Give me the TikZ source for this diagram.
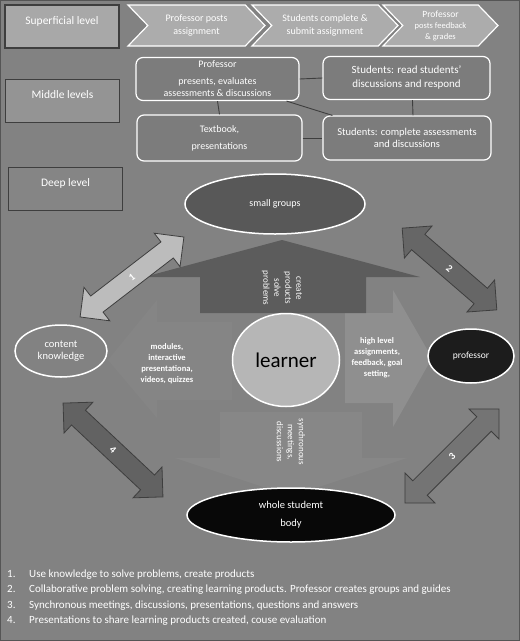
\documentclass[tikz,border=0pt]{standalone}
\usepackage{fontspec}
\setmainfont{Carlito}
\usetikzlibrary{shapes.geometric,shapes.arrows,shapes.symbols}

\definecolor{bgGray}{RGB}{130,130,130}
\definecolor{frameGray}{RGB}{85,85,85}
\definecolor{darkEdge}{RGB}{62,62,62}
\definecolor{supGray}{RGB}{168,168,168}
\definecolor{midGray}{RGB}{148,148,148}
\definecolor{deepGray}{RGB}{133,133,133}
\definecolor{chevGray}{RGB}{172,172,172}
\definecolor{boxGray}{RGB}{124,124,124}
\definecolor{groupGray}{RGB}{88,88,88}
\definecolor{learnGray}{RGB}{182,182,182}
\definecolor{profBlack}{RGB}{28,28,28}
\definecolor{bodyBlack}{RGB}{8,8,8}
\definecolor{oneGray}{RGB}{188,188,188}
\definecolor{twoGray}{RGB}{102,102,102}
\definecolor{threeGray}{RGB}{116,116,116}
\definecolor{fourGray}{RGB}{98,98,98}
\definecolor{upGray}{RGB}{92,92,92}
\definecolor{rightGray}{RGB}{143,143,143}
\definecolor{leftGray}{RGB}{133,133,133}
\definecolor{downGray}{RGB}{135,135,135}

\begin{document}
\begin{tikzpicture}[x=1pt,y=-1pt,
	levelbox/.style={draw=darkEdge,line width=1.5pt,minimum width=114pt,minimum height=43pt,text=white,text depth=12pt,font=\fontsize{11.5}{13}\selectfont},
	chevron/.style={signal,signal from=west,signal to=east,signal pointer angle=92,draw=white,line width=1.2pt,fill=chevGray,minimum height=41pt,inner sep=0pt,text=white,align=center,font=\fontsize{10}{13.5}\selectfont},
	midbox/.style={draw=white,rounded corners=7pt,line width=1.2pt,fill=boxGray,minimum width=163pt,minimum height=43pt,text=white,align=center,font=\fontsize{10}{12}\selectfont},
	blob/.style={ellipse,draw=white,line width=1.5pt,inner sep=0pt,text=white,align=center,font=\fontsize{10}{12}\selectfont},
	twoway/.style={double arrow,double arrow head extend=11pt,double arrow tip angle=90,draw=darkEdge,line width=0.8pt,inner xsep=0pt,inner ysep=6.5pt,text=white,font=\bfseries\fontsize{10}{12}\selectfont},
	link/.style={draw=darkEdge,line width=0.9pt},
	flow/.style={text=white,align=center,font=\fontsize{9}{11}\selectfont}
]
	% canvas
	\fill[bgGray] (0,0) rectangle (520,641);
	\draw[frameGray,line width=1pt] (0.5,0.5) rectangle (519.5,640.5);
	\useasboundingbox (0,0) rectangle (520,641);

	% levels
	\node[levelbox,fill=supGray] (suplevel) at (62,26.5) {Superficial level};
	\node[levelbox,fill=midGray] (midlevel) at (62.5,101) {Middle levels};
	\node[levelbox,fill=deepGray] (deeplevel) at (65.5,189) {Deep level};

	% superficial level
	\node[chevron,minimum width=137pt] (post) at (196.5,25.5) {Professor posts\\assignment};
	\node[chevron,minimum width=146pt] (submit) at (325,25.5) {Students complete \&\\submit assignment};
	\node[chevron,minimum width=115pt,font=\fontsize{8.5}{11}\selectfont] (grade) at (440.5,25.5) {{\fontsize{9.5}{11}\selectfont Professor}\\posts feedback\\\& grades};

	% middle levels
	\node[midbox] (profbox) at (217.5,79) {Professor\\[5pt]presents, evaluates\\assessments \& discussions};
	\node[midbox,minimum width=167pt,font=\fontsize{11}{14}\selectfont] (readbox) at (406.5,78) {Students: read students'\\discussions and respond};
	\node[midbox,minimum width=165pt,minimum height=46pt] (textbox) at (219.5,138) {Textbook,\\[5pt]presentations};
	\node[midbox,minimum width=168pt,minimum height=44pt,font=\fontsize{10.5}{12.5}\selectfont] (compbox) at (407,138) {Students: complete assessments\\and discussions};

	\path[link] (profbox.east) -- (readbox.west);
	\path[link] (profbox.south) -- (textbox.north);
	\path[link] ([xshift=6pt]readbox.south) -- ([xshift=6pt]compbox.north);
	\path[link] ([xshift=-13pt]profbox.south east) -- ([xshift=10pt]compbox.north west);
	\path[link] (textbox.east) -- (compbox.west);

	% deep level: flows round the learner
	\fill[leftGray] (232,322) -- (157,322) -- (157,300) -- (108,360) -- (157,418) -- (157,400) -- (232,400) -- cycle;
	\fill[downGray] (220,412) -- (362,412) -- (362,458) -- (407,458) -- (291,496) -- (175,458) -- (220,458) -- cycle;
	\fill[rightGray] (345,313) -- (393,313) -- (393,290) -- (432,358) -- (393,427) -- (393,403) -- (345,403) -- cycle;
	\fill[upGray] (200,313) -- (200,277) -- (144,277) -- (282,240) -- (420,277) -- (366,277) -- (366,313) -- cycle;

	\node[blob,fill=groupGray,minimum width=180pt,minimum height=60pt] (groups) at (275,204) {small groups};
	\node[blob,fill=bgGray,minimum width=92pt,minimum height=52pt,font=\fontsize{10.5}{12}\selectfont] (content) at (61,351) {content\\knowledge};
	\node[blob,fill=learnGray,minimum width=107pt,minimum height=93pt,text=black,font=\fontsize{21}{24}\selectfont] (learner) at (286,360) {learner};
	\node[blob,fill=profBlack,minimum width=86pt,minimum height=54pt,font=\fontsize{9.5}{12}\selectfont] (professor) at (471,356) {professor};
	\node[blob,fill=bodyBlack,minimum width=208pt,minimum height=54pt,font=\fontsize{10.5}{18}\selectfont] (body) at (291,515) {whole studemt\\body};

	\node[twoway,fill=oneGray,minimum height=131pt,rotate=37.6] (one) at (132,277) {1};
	\node[twoway,fill=twoGray,minimum height=125pt,rotate=-40.8] (two) at (449.5,269) {2};
	\node[twoway,fill=threeGray,minimum height=133pt,rotate=45] (three) at (452,456) {3};
	\node[twoway,fill=fourGray,minimum height=137pt,rotate=-43.2] (four) at (113,450) {4};

	\node[flow,rotate=-90] (createtxt) at (282,288) {create\\products\\solve\\problems};
	\node[flow,rotate=-90] (synctxt) at (291,442) {synchronous\\meetings,\\discussions};
	\node[flow,font=\bfseries\fontsize{8.5}{11}\selectfont] (modtxt) at (167,364) {modules,\\interactive\\presentationa,\\videos, quizzes};
	\node[flow,font=\bfseries\fontsize{8.5}{11}\selectfont] (hightxt) at (377,358) {high level\\assignments,\\feedback, goal\\setting,};

	% legend
	\node[anchor=north west,inner sep=0pt,text=white,font=\fontsize{11}{15.5}\selectfont] (legend) at (7,566) {%
		\begin{tabular}{@{}p{22pt}@{}l@{}}
		1. & Use knowledge to solve problems, create products\\
		2. & Collaborative problem solving, creating learning products. Professor creates groups and guides\\
		3. & Synchronous meetings, discussions, presentations, questions and answers\\
		4. & Presentations to share learning products created, couse evaluation
		\end{tabular}};
\end{tikzpicture}
\end{document}
